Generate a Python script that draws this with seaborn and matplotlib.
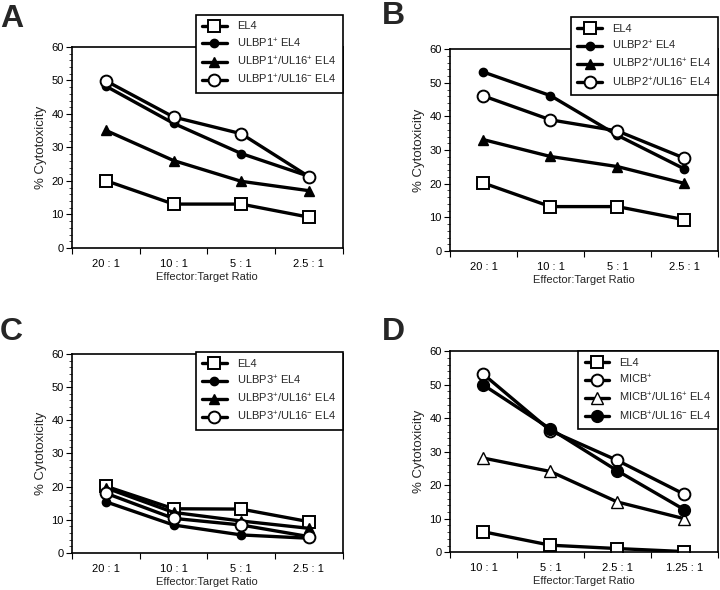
import matplotlib
matplotlib.use("Agg")
import matplotlib.pyplot as plt
from matplotlib.ticker import MultipleLocator
import seaborn as sns
import pandas as pd

sns.set_theme(style="white")
plt.rcParams['font.family'] = ['Liberation Sans', 'DejaVu Sans']
plt.rcParams['mathtext.fontset'] = 'custom'
plt.rcParams['mathtext.rm'] = 'Liberation Sans'
plt.rcParams['mathtext.it'] = 'Liberation Sans'
plt.rcParams['mathtext.default'] = 'regular'

# ---- data ----
ratios_abc = ["20 : 1", "10 : 1", "5 : 1", "2.5 : 1"]
ratios_d = ["10 : 1", "5 : 1", "2.5 : 1", "1.25 : 1"]

a_labels = ["EL4", "ULBP1$^{+}$ EL4", "ULBP1$^{+}$/UL16$^{+}$ EL4", "ULBP1$^{+}$/UL16$^{-}$ EL4"]
a_el4 = [20.1, 13.1, 13.1, 9.2]
a_ulbp = [48.3, 37.2, 28.2, 21.4]
a_ul16p = [35.1, 26.1, 19.9, 17.1]
a_ul16m = [49.9, 39.1, 34.1, 21.3]

b_labels = ["EL4", "ULBP2$^{+}$ EL4", "ULBP2$^{+}$/UL16$^{+}$ EL4", "ULBP2$^{+}$/UL16$^{-}$ EL4"]
b_el4 = [20.2, 13.2, 13.2, 9.3]
b_ulbp = [53.2, 46.2, 34.4, 24.4]
b_ul16p = [33.1, 28.1, 25.1, 20.1]
b_ul16m = [46.1, 39.0, 35.7, 27.6]

c_labels = ["EL4", "ULBP3$^{+}$ EL4", "ULBP3$^{+}$/UL16$^{+}$ EL4", "ULBP3$^{+}$/UL16$^{-}$ EL4"]
c_el4 = [20.1, 13.3, 13.2, 9.4]
c_ulbp = [15.4, 8.4, 5.4, 4.4]
c_ul16p = [19.6, 12.2, 9.6, 7.4]
c_ul16m = [18.0, 10.4, 8.4, 4.9]

d_labels = ["EL4", "MICB$^{+}$", "MICB$^{+}$/UL16$^{+}$ EL4", "MICB$^{+}$/UL16$^{-}$ EL4"]
d_el4 = [6.1, 2.1, 1.1, 0.2]
d_micb = [53.1, 36.3, 27.4, 17.3]
d_ul16p = [28.1, 24.1, 15.0, 10.0]
d_ul16m = [49.9, 36.8, 24.3, 12.7]

# ---- styles ----
LW = 2.4
styles_abc = [
    dict(marker='s', markersize=8.5, markerfacecolor='white', markeredgewidth=1.4),
    dict(marker='o', markersize=6.0, markerfacecolor='black', markeredgewidth=1.0),
    dict(marker='^', markersize=7.0, markerfacecolor='black', markeredgewidth=1.0),
    dict(marker='o', markersize=8.5, markerfacecolor='white', markeredgewidth=1.4),
]
styles_d = [
    dict(marker='s', markersize=8.5, markerfacecolor='white', markeredgewidth=1.4),
    dict(marker='o', markersize=8.5, markerfacecolor='white', markeredgewidth=1.4),
    dict(marker='^', markersize=8.0, markerfacecolor='white', markeredgewidth=1.0),
    dict(marker='o', markersize=8.5, markerfacecolor='black', markeredgewidth=1.0),
]

fig = plt.figure(figsize=(7.2, 5.9), dpi=100)

panels = [
    ("A", [0.100, 0.5797, 0.376, 0.3407], ratios_abc, a_labels, [a_el4, a_ulbp, a_ul16p, a_ul16m], styles_abc, 1.16, (0.000, 0.954)),
    ("B", [0.625, 0.5746, 0.372, 0.3420], ratios_abc, b_labels, [b_el4, b_ulbp, b_ul16p, b_ul16m], styles_abc, 1.158, (0.530, 0.959)),
    ("C", [0.100, 0.0630, 0.376, 0.3370], ratios_abc, c_labels, [c_el4, c_ulbp, c_ul16p, c_ul16m], styles_abc, 1.01, (0.000, 0.424)),
    ("D", [0.625, 0.0640, 0.372, 0.3407], ratios_d, d_labels, [d_el4, d_micb, d_ul16p, d_ul16m], styles_d, 1.0, (0.530, 0.424)),
]

for letter, rect, cats, labels, series, styles, leg_y, lpos in panels:
    ax = fig.add_axes(rect)
    for lab, vals, st in zip(labels, series, styles):
        df = pd.DataFrame({"ratio": cats, "value": vals})
        sns.lineplot(data=df, x="ratio", y="value", ax=ax, color='black',
                     linewidth=LW, markeredgecolor='black', label=lab, sort=False, **st)
    ax.set_xlim(-0.5, 3.5)
    ax.set_ylim(0, 60)
    ax.set_xticks([-0.5, 0.5, 1.5, 2.5, 3.5])
    ax.set_xticklabels([])
    ax.set_xticks([0, 1, 2, 3], minor=True)
    ax.set_xticklabels(cats, minor=True)
    ax.tick_params(axis='x', which='minor', length=0, labelsize=8, pad=8, colors='black')
    ax.tick_params(axis='x', which='major', length=4, width=0.8, direction='out', bottom=True, colors='black')
    ax.yaxis.set_major_locator(MultipleLocator(10))
    ax.yaxis.set_minor_locator(MultipleLocator(2))
    ax.tick_params(axis='y', which='major', length=4, width=0.8, direction='out', left=True, labelsize=8, pad=2, colors='black')
    ax.tick_params(axis='y', which='minor', length=2, width=0.6, direction='out', left=True)
    for s in ax.spines.values():
        s.set_color('black')
        s.set_linewidth(1.2)
    ax.set_xlabel("Effector:Target Ratio", fontsize=8, labelpad=2)
    ax.set_ylabel("% Cytotoxicity", fontsize=9.5, labelpad=3)
    ax.set_facecolor('white')
    leg = ax.legend(loc='upper right', bbox_to_anchor=(1.0, leg_y), borderaxespad=0,
                    fontsize=8, frameon=True, fancybox=False, edgecolor='black',
                    framealpha=1, handlelength=2.2, handletextpad=0.9, labelspacing=0.45,
                    borderpad=0.6)
    leg.get_frame().set_linewidth(1.2)
    fig.text(lpos[0], lpos[1], letter, fontsize=23, fontweight='bold', ha='left', va='baseline')

fig.savefig("out.png", dpi=100, facecolor='white')
